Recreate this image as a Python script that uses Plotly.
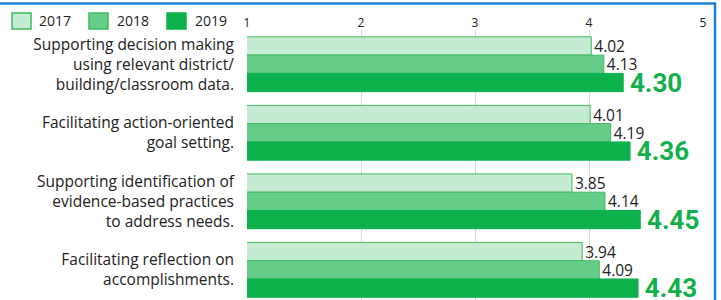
import plotly.graph_objects as go

categories = [
    "Supporting decision making<br>using relevant district/<br>building/classroom data.",
    "Facilitating action-oriented<br>goal setting.",
    "Supporting identification of<br>evidence-based practices<br>to address needs.",
    "Facilitating reflection on<br>accomplishments.",
]
years = ["2017", "2018", "2019"]
v2017 = [4.02, 4.01, 3.85, 3.94]
v2018 = [4.13, 4.19, 4.14, 4.09]
v2019 = [4.30, 4.36, 4.45, 4.43]
x_ticks = [1, 2, 3, 4, 5]

W, H = 721, 300
L, R, T, B = 247, 18, 30, 0
PW, PH = W - L - R, H - T - B

def px(x):
    return (x - L) / PW

def py(y):
    return (H - B - y) / PH

fills = ["#c6ebd3", "#66cc8a", "#0db14b"]
lines = ["#3dba5e", "#3dba5e", "#0db14b"]
label_fonts = [
    dict(family="Open Sans", size=15.5, color="#222222"),
    dict(family="Open Sans", size=15.5, color="#222222"),
    dict(family="Liberation Sans Narrow, Roboto", size=26, color="#12b04a", weight="bold"),
]
prefix = ["", "", '<span style="font-size:15px"> </span>']

fig = go.Figure()
for i, vals in enumerate([v2017, v2018, v2019]):
    fig.add_trace(go.Bar(
        y=categories, x=vals, orientation="h", name=years[i],
        marker=dict(color=fills[i], line=dict(color=lines[i], width=1)),
        text=[prefix[i] + f"{v:.2f}" for v in vals], textposition="outside",
        textfont=label_fonts[i], constraintext="none", cliponaxis=False,
        showlegend=False, hoverinfo="skip",
    ))

shapes = []
annotations = []
sw_x = [12, 89, 167]
txt_x = [37, 115, 193]
for i in range(3):
    shapes.append(dict(type="rect", xref="paper", yref="paper",
                       x0=px(sw_x[i]), x1=px(sw_x[i] + 19), y0=py(29), y1=py(13),
                       fillcolor=fills[i], line=dict(color=lines[i], width=1.5)))
    annotations.append(dict(xref="paper", yref="paper", x=px(txt_x[i]), y=py(21),
                            text=years[i], showarrow=False, xanchor="left", yanchor="middle",
                            font=dict(family="Open Sans", size=14, color="#222222")))
# frame
shapes.append(dict(type="line", xref="paper", yref="paper", x0=px(0), x1=px(716), y0=py(3.5), y1=py(3.5),
                   line=dict(color="#1a7fd6", width=2.5)))
shapes.append(dict(type="line", xref="paper", yref="paper", x0=px(715), x1=px(715), y0=py(3), y1=py(300),
                   line=dict(color="#1a7fd6", width=2.5)))

fig.update_layout(
    width=W, height=H, margin=dict(l=L, r=R, t=T, b=B, pad=0),
    paper_bgcolor="white", plot_bgcolor="white",
    barmode="group", bargap=0.2, bargroupgap=0,
    shapes=shapes, annotations=annotations,
    font=dict(family="Open Sans", color="#222222"),
)
fig.update_xaxes(side="top", range=[1, 5], tickvals=x_ticks, ticks="",
                 tickfont=dict(family="Open Sans", size=12, color="#222222"),
                 showgrid=True, gridcolor="#d9d9d9", gridwidth=1, zeroline=False,
                 showline=False, ticklabelstandoff=0)
fig.update_yaxes(type="category", range=[3.44, -0.5], ticks="", showgrid=False,
                 tickfont=dict(family="Open Sans", size=15.5, color="#222222"),
                 ticklabelstandoff=12, showline=False)
fig.write_html("out.html", config={"displayModeBar": False},
               post_script="document.body.style.margin='0px';")
